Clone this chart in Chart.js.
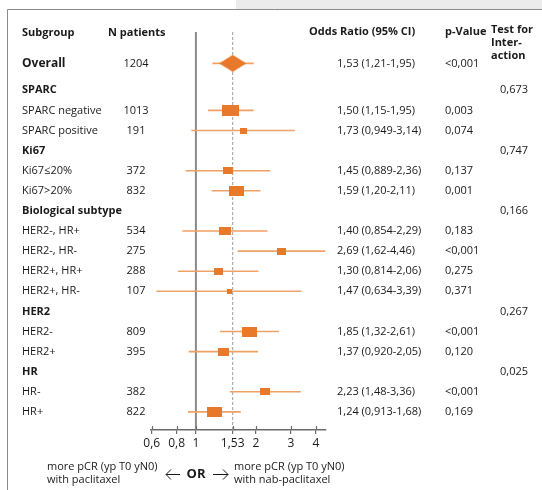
<!DOCTYPE html>
<html>
<head>
<meta charset="utf-8">
<script src="https://cdn.jsdelivr.net/npm/chart.js@4.4.1/dist/chart.umd.min.js"></script>
<style>
    html, body { margin: 0; padding: 0; background: #fff; }
    #forest { display: block; }
</style>
</head>
<body>
<canvas id="forest" width="542" height="490"></canvas>
<script>(function() { "use strict";

    var subgroups = ['Overall', 'SPARC', 'SPARC negative', 'SPARC positive', 'Ki67', 'Ki67\u226420%', 'Ki67>20%',
        'Biological subtype', 'HER2-, HR+', 'HER2-, HR-', 'HER2+, HR+', 'HER2+, HR-', 'HER2', 'HER2-', 'HER2+',
        'HR', 'HR-', 'HR+'];
    var nPatients = [1204, null, 1013, 191, null, 372, 832, null, 534, 275, 288, 107, null, 809, 395, null, 382, 822];
    var oddsRatio = [1.53, null, 1.50, 1.73, null, 1.45, 1.59, null, 1.40, 2.69, 1.30, 1.47, null, 1.85, 1.37, null, 2.23, 1.24];
    var ciLow = [1.21, null, 1.15, 0.949, null, 0.889, 1.20, null, 0.854, 1.62, 0.814, 0.634, null, 1.32, 0.920, null, 1.48, 0.913];
    var ciHigh = [1.95, null, 1.95, 3.14, null, 2.36, 2.11, null, 2.29, 4.46, 2.06, 3.39, null, 2.61, 2.05, null, 3.36, 1.68];
    var orLabels = ['1,53 (1,21-1,95)', null, '1,50 (1,15-1,95)', '1,73 (0,949-3,14)', null, '1,45 (0,889-2,36)',
        '1,59 (1,20-2,11)', null, '1,40 (0,854-2,29)', '2,69 (1,62-4,46)', '1,30 (0,814-2,06)', '1,47 (0,634-3,39)',
        null, '1,85 (1,32-2,61)', '1,37 (0,920-2,05)', null, '2,23 (1,48-3,36)', '1,24 (0,913-1,68)'];
    var pValues = ['<0,001', null, '0,003', '0,074', null, '0,137', '0,001', null, '0,183', '<0,001', '0,275', '0,371',
        null, '<0,001', '0,120', null, '<0,001', '0,169'];
    var interaction = [null, '0,673', null, null, '0,747', null, null, '0,166', null, null, null, null, '0,267',
        null, null, '0,025', null, null];
    var xTicks = [0.6, 0.8, 1, 1.53, 2, 3, 4];
    var overallOR = 1.53;

    var FONT = '"Open Sans", sans-serif';
    var ORANGE = '#e8782a';
    var ORANGE_LIGHT = '#f0a164';

    // row slot on the y scale, a small extra gap below the overall row
    function slotOf(i) { return i === 0 ? 0 : i + 0.34; }

    // box marker, size grows with the number of patients
    function boxMarker(n) {
        var w = Math.round(0.53 * Math.sqrt(n));
        var h = Math.round(2 + 0.5 * w);
        var c = document.createElement('canvas');
        c.width = w; c.height = h;
        var g = c.getContext('2d');
        g.fillStyle = ORANGE;
        g.fillRect(0, 0, w, h);
        return c;
    }

    function diamondMarker() {
        var c = document.createElement('canvas');
        c.width = 27; c.height = 17;
        var g = c.getContext('2d');
        g.fillStyle = ORANGE;
        g.beginPath();
        g.moveTo(0, 8.5); g.lineTo(13.5, 0); g.lineTo(27, 8.5); g.lineTo(13.5, 17);
        g.closePath();
        g.fill();
        return c;
    }

    var markerData = [], markerStyles = [], datasets = [];
    subgroups.forEach(function(name, i) {
        if (oddsRatio[i] === null) return;
        markerData.push({ x: oddsRatio[i], y: slotOf(i) });
        markerStyles.push(i === 0 ? diamondMarker() : boxMarker(nPatients[i]));
    });

    datasets.push({
        type: 'scatter',
        data: markerData,
        pointStyle: markerStyles,
        pointRadius: 5,
        order: 0,
        clip: false
    });

    subgroups.forEach(function(name, i) {
        if (oddsRatio[i] === null) return;
        datasets.push({
            type: 'line',
            data: [{ x: ciLow[i], y: slotOf(i) }, { x: ciHigh[i], y: slotOf(i) }],
            borderColor: ORANGE_LIGHT,
            borderWidth: 1.6,
            pointRadius: 0,
            order: 1,
            clip: false
        });
    });

    var yTop = -1.56, yBottom = 18.24;
    datasets.push({
        type: 'line',
        data: [{ x: 1, y: yTop }, { x: 1, y: yBottom }],
        borderColor: '#8a8a8a',
        borderWidth: 2,
        pointRadius: 0,
        order: 2
    });
    datasets.push({
        type: 'line',
        data: [{ x: overallOR, y: yTop }, { x: overallOR, y: yBottom }],
        borderColor: '#9c9c9c',
        borderWidth: 1,
        borderDash: [3, 2],
        pointRadius: 0,
        order: 2
    });

    var textPlugin = {
        id: 'forestText',
        beforeDraw: function(chart) {
            var ctx = chart.ctx;
            ctx.save();
            ctx.fillStyle = '#ececec';
            ctx.fillRect(236, 0, 306, 9);
            ctx.strokeStyle = '#8a8a8a';
            ctx.lineWidth = 1;
            ctx.beginPath();
            ctx.moveTo(7.5, 490); ctx.lineTo(7.5, 9.5); ctx.lineTo(542, 9.5);
            ctx.stroke();
            ctx.restore();
        },
        afterDraw: function(chart) {
            var ctx = chart.ctx,
                ys = chart.scales.y,
                xs = chart.scales.x;
            ctx.save();
            ctx.fillStyle = '#1a1a1a';
            ctx.textBaseline = 'middle';

            // headers
            ctx.font = 'bold 11px ' + FONT;
            ctx.textAlign = 'left';
            ctx.fillText('Subgroup', 22, 33);
            ctx.fillText('N patients', 108, 33);
            ctx.fillText('Odds Ratio (95% CI)', 309, 32);
            ctx.fillText('p-Value', 445, 32);
            ctx.fillText('Test for', 491, 30);
            ctx.fillText('Inter-', 491, 43);
            ctx.fillText('action', 491, 56);

            subgroups.forEach(function(name, i) {
                var y = ys.getPixelForValue(slotOf(i));
                var isHead = nPatients[i] === null;
                ctx.textAlign = 'left';
                ctx.font = (i === 0 ? 'bold 12px ' : isHead ? 'bold 11px ' : '11px ') + FONT;
                ctx.fillText(name, 22, y);
                ctx.font = '11px ' + FONT;
                if (nPatients[i] !== null) {
                    ctx.textAlign = 'center';
                    ctx.fillText(String(nPatients[i]), 136, y);
                    ctx.textAlign = 'left';
                    ctx.fillText(orLabels[i], 337, y);
                    ctx.fillText(pValues[i], 445, y);
                }
                if (interaction[i] !== null) {
                    ctx.textAlign = 'left';
                    ctx.fillText(interaction[i], 500, y);
                }
            });

            // upper half of the axis ticks
            ctx.strokeStyle = '#6b6b6b';
            ctx.lineWidth = 1.2;
            var axisY = chart.chartArea.bottom;
            xTicks.forEach(function(v) {
                var px = Math.round(xs.getPixelForValue(v)) + 0.5;
                ctx.beginPath();
                ctx.moveTo(px, axisY - 4); ctx.lineTo(px, axisY);
                ctx.stroke();
            });

            // direction note
            ctx.font = '11px ' + FONT;
            ctx.textAlign = 'left';
            ctx.fillText('more pCR (yp T0 yN0)', 47, 467);
            ctx.fillText('with paclitaxel', 47, 480);
            ctx.fillText('more pCR (yp T0 yN0)', 234, 467);
            ctx.fillText('with nab-paclitaxel', 234, 480);
            ctx.font = 'bold 13px ' + FONT;
            ctx.textAlign = 'center';
            ctx.fillText('OR', 196, 474);
            ctx.strokeStyle = '#1a1a1a';
            ctx.lineWidth = 1;
            ctx.beginPath();
            ctx.moveTo(180, 474.5); ctx.lineTo(166, 474.5);
            ctx.moveTo(171, 469.5); ctx.lineTo(166, 474.5); ctx.lineTo(171, 479.5);
            ctx.moveTo(213, 474.5); ctx.lineTo(228, 474.5);
            ctx.moveTo(223, 469.5); ctx.lineTo(228, 474.5); ctx.lineTo(223, 479.5);
            ctx.stroke();
            ctx.restore();
        }
    };

    new Chart(document.getElementById('forest'), {
        type: 'scatter',
        data: { datasets: datasets },
        options: {
            responsive: false,
            animation: false,
            events: [],
            layout: { padding: { left: 151, right: 216, top: 30, bottom: 0 } },
            plugins: { legend: { display: false }, tooltip: { enabled: false } },
            scales: {
                x: {
                    type: 'logarithmic',
                    min: 0.595,
                    max: 4.5,
                    afterBuildTicks: function(scale) {
                        scale.ticks = xTicks.map(function(v) { return { value: v }; });
                    },
                    afterFit: function(scale) { scale.height = 60; },
                    border: { display: true, color: '#6b6b6b', width: 1.5 },
                    grid: { drawOnChartArea: false, drawTicks: true, tickLength: 4, color: '#6b6b6b', lineWidth: 1.2 },
                    ticks: {
                        autoSkip: false,
                        maxRotation: 0,
                        padding: 2,
                        color: '#1a1a1a',
                        font: { family: FONT, size: 12 },
                        callback: function(value) { return String(value).replace('.', ','); }
                    }
                },
                y: {
                    type: 'linear',
                    reverse: true,
                    min: -1.66,
                    max: 18.24,
                    display: false
                }
            }
        },
        plugins: [textPlugin]
    });

})();</script>
</body>
</html>
